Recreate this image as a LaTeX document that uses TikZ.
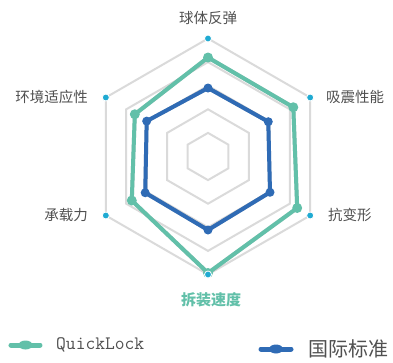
\documentclass[tikz,border=0pt]{standalone}
\usepackage{fontspec}
\usetikzlibrary{calc}
\newfontfamily\cjk{Noto Sans CJK SC}
\definecolor{quick}{HTML}{62C0A9}
\definecolor{norm}{HTML}{2F6BB5}
\definecolor{axisdot}{HTML}{1FAAD2}
\definecolor{gridgray}{HTML}{DADADA}
\definecolor{labelgray}{HTML}{505050}
\tikzset{>=latex}

\begin{document}
\begin{tikzpicture}[x=1pt, y=1pt]
	\tikzstyle{grid} = [draw=gridgray, line width=2pt]
	\tikzstyle{shade} = [draw=black, opacity=0.18, line width=4pt, line join=round]
	\tikzstyle{series_quick} = [draw=quick, line width=4pt, line join=round]
	\tikzstyle{series_norm} = [draw=norm, line width=4pt, line join=round]
	\tikzstyle{dot_quick} = [circle, fill=quick, inner sep=0pt, minimum size=10pt]
	\tikzstyle{dot_norm} = [circle, fill=norm, inner sep=0pt, minimum size=9pt]
	\tikzstyle{axis_dot} = [circle, fill=axisdot, draw=white, line width=0.8pt, inner sep=0pt, minimum size=7pt]
	\tikzstyle{axis_label} = [font=\cjk\fontsize{14.5}{16}\selectfont, text=labelgray, inner sep=0pt]

	\useasboundingbox (-208,-205.5) rectangle (185,156.5);

%----------сітка------------------------------
	\foreach \r in {23.6, 47.2, 70.8, 94.4, 118}
		\draw[grid] (90:\r) -- (30:\r) -- (-30:\r) -- (-90:\r) -- (210:\r) -- (150:\r) -- cycle;

%----------国际标准------------------------------
	\coordinate (n0) at (90:68.5);
	\coordinate (n1) at (30:69.6);
	\coordinate (n2) at (-30:71.6);
	\coordinate (n3) at (-90:73.5);
	\coordinate (n4) at (210:72.5);
	\coordinate (n5) at (150:70.8);

	\draw[shade, yshift=-2.5pt, xshift=0.5pt] (n0)--(n1)--(n2)--(n3)--(n4)--(n5)--cycle;
	\draw[series_norm] (n0)--(n1)--(n2)--(n3)--(n4)--(n5)--cycle;
	\node[dot_norm] (nd0) at (n0) {};
	\node[dot_norm] (nd1) at (n1) {};
	\node[dot_norm] (nd2) at (n2) {};
	\node[dot_norm] (nd3) at (n3) {};
	\node[dot_norm] (nd4) at (n4) {};
	\node[dot_norm] (nd5) at (n5) {};

%----------QuickLock------------------------------
	\coordinate (q0) at (90:99);
	\coordinate (q1) at (30:98.5);
	\coordinate (q2) at (-30:103);
	\coordinate (q3) at (-90:116.5);
	\coordinate (q4) at (210:88);
	\coordinate (q5) at (150:84.5);

	\draw[shade, yshift=-2.5pt, xshift=0.5pt] (q0)--(q1)--(q2)--(q3)--(q4)--(q5)--cycle;
	\draw[series_quick] (q0)--(q1)--(q2)--(q3)--(q4)--(q5)--cycle;
	\node[dot_quick] (qd0) at (q0) {};
	\node[dot_quick] (qd1) at (q1) {};
	\node[dot_quick] (qd2) at (q2) {};
	\node[dot_quick] (qd3) at (q3) {};
	\node[dot_quick] (qd4) at (q4) {};
	\node[dot_quick] (qd5) at (q5) {};

%----------осі------------------------------
	\node[axis_dot] (a0) at (90:118) {};
	\node[axis_dot] (a1) at (30:118) {};
	\node[axis_dot] (a2) at (-30:118) {};
	\node[axis_dot] (a3) at (-90:118) {};
	\node[axis_dot] (a4) at (210:118) {};
	\node[axis_dot] (a5) at (150:118) {};

	\node[axis_label] (l0) at (0,138.5) {球体反弹};
	\node[axis_label, anchor=west] (l1) at (118,59.5) {吸震性能};
	\node[axis_label, anchor=west] (l2) at (120,-58.5) {抗变形};
	\node[axis_label, text=quick, font=\cjk\bfseries\fontsize{15}{16}\selectfont] (l3) at (3,-143) {拆装速度};
	\node[axis_label, anchor=east] (l4) at (-120,-58.5) {承载力};
	\node[axis_label, anchor=east] (l5) at (-120,59.5) {环境适应性};

%----------легенда------------------------------
	\coordinate (kq1) at (-197,-188.5);
	\coordinate (kq2) at (-168,-188.5);
	\draw[quick, line width=5pt, line cap=round] (kq1)--(kq2);
	\fill[quick] ($(kq1)!0.5!(kq2)$) ellipse (7pt and 4.5pt);
	\node[anchor=west, inner sep=0pt, font=\ttfamily\fontsize{19}{20}\selectfont, text=labelgray] (kq) at (-152,-188.5) {QuickLock};

	\coordinate (kn1) at (53,-192.5);
	\coordinate (kn2) at (83,-192.5);
	\draw[norm, line width=5pt, line cap=round] (kn1)--(kn2);
	\fill[norm] ($(kn1)!0.5!(kn2)$) ellipse (7pt and 4.5pt);
	\node[anchor=west, inner sep=0pt, font=\cjk\fontsize{20}{22}\selectfont, text=labelgray] (kn) at (100,-192.5) {国际标准};

\end{tikzpicture}
\end{document}
